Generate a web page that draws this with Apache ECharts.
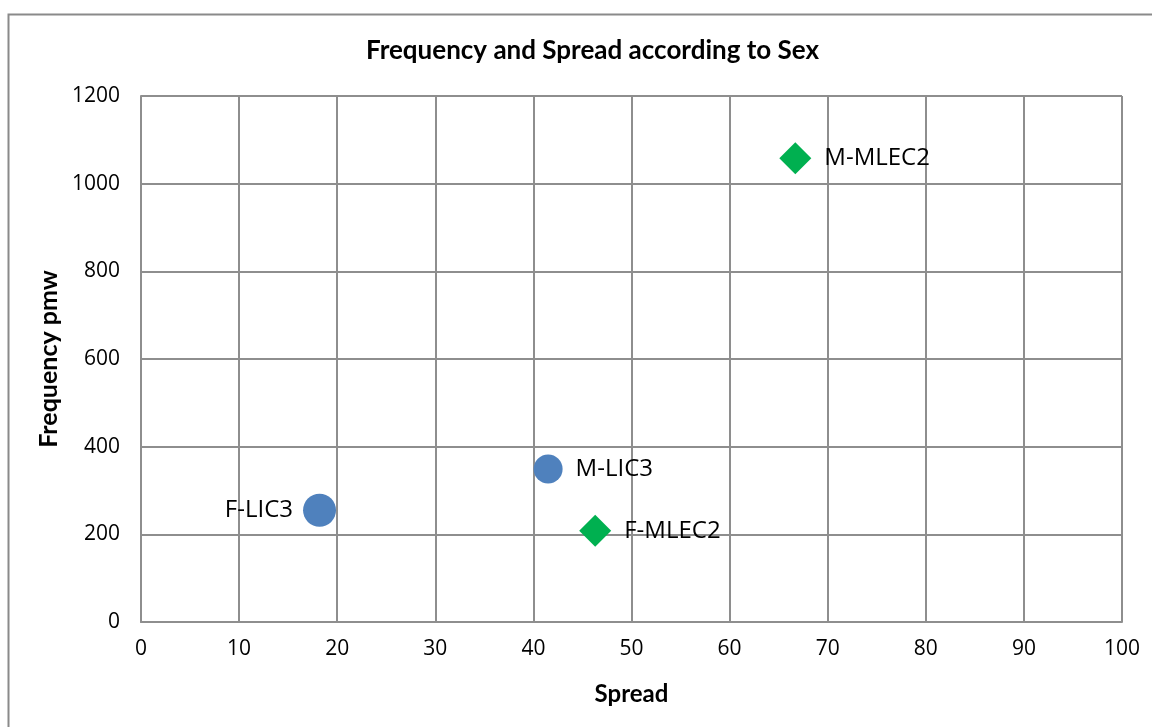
<!DOCTYPE html>
<html>
<head>
<meta charset="utf-8">
<script src="https://cdn.jsdelivr.net/npm/echarts@6/dist/echarts.min.js"></script>
<style>
  html, body { margin: 0; padding: 0; background: #fff; }
  #chart { width: 1152px; height: 727px; }
</style>
</head>
<body>
<div id="chart"></div>
<script>
// LIC3 group (circles)
const lic3Labels = ['F-LIC3', 'M-LIC3'];
const lic3Spread = [18.2, 41.5];
const lic3Freq = [255, 349];

// MLEC2 group (diamonds)
const mlec2Labels = ['F-MLEC2', 'M-MLEC2'];
const mlec2Spread = [46.3, 66.7];
const mlec2Freq = [208, 1058];

const chartTitle = 'Frequency and Spread according to Sex';
const xName = 'Spread';
const yName = 'Frequency pmw';

const gridColor = '#8e8e8e';
const textColor = '#000';

function points(labels, xs, ys) {
  return labels.map((name, i) => ({ name: name, value: [xs[i], ys[i]] }));
}

const lic3Data = points(lic3Labels, lic3Spread, lic3Freq);
lic3Data[0].symbolSize = 33;
lic3Data[0].label = { position: 'left', distance: 10 };
lic3Data[1].symbolSize = 29;

const mlec2Data = points(mlec2Labels, mlec2Spread, mlec2Freq);

const labelStyle = {
  show: true,
  position: 'right',
  distance: 13,
  formatter: p => p.name,
  fontFamily: 'Open Sans',
  fontSize: 24,
  color: textColor
};

const chart = echarts.init(document.getElementById('chart'), null, { renderer: 'canvas' });
chart.setOption({
  backgroundColor: '#fff',
  animation: false,
  title: {
    text: chartTitle,
    left: 361,
    top: 33,
    textStyle: { fontFamily: 'Lato', fontWeight: 'bold', fontSize: 26, color: textColor }
  },
  graphic: [{
    type: 'rect',
    shape: { x: 8.5, y: 14.5, width: 1170, height: 740 },
    style: { fill: 'none', stroke: '#8a8a8a', lineWidth: 2 },
    silent: true
  }],
  grid: { left: 141, top: 96, right: 30, bottom: 105 },
  xAxis: {
    type: 'value',
    min: 0, max: 100, interval: 10,
    name: xName,
    nameLocation: 'middle',
    nameGap: 60,
    nameTextStyle: { fontFamily: 'Lato', fontWeight: 'bold', fontSize: 24, color: textColor },
    axisLine: { show: true, lineStyle: { color: gridColor, width: 2 } },
    axisTick: { show: false },
    axisLabel: { fontFamily: 'Open Sans', fontSize: 21, color: textColor, margin: 17 },
    splitLine: { show: true, lineStyle: { color: gridColor, width: 2 } }
  },
  yAxis: {
    type: 'value',
    min: 0, max: 1200, interval: 200,
    name: yName,
    nameLocation: 'middle',
    nameGap: 80,
    nameRotate: 90,
    nameTextStyle: { fontFamily: 'Lato', fontWeight: 'bold', fontSize: 25, color: textColor },
    axisLine: { show: true, lineStyle: { color: gridColor, width: 2 } },
    axisTick: { show: false },
    axisLabel: { fontFamily: 'Open Sans', fontSize: 21, color: textColor, margin: 21, formatter: v => String(v) },
    splitLine: { show: true, lineStyle: { color: gridColor, width: 2 } }
  },
  series: [
    {
      name: 'LIC3',
      type: 'scatter',
      symbol: 'circle',
      symbolSize: 30,
      itemStyle: { color: '#4f81bd', opacity: 1 },
      label: labelStyle,
      data: lic3Data
    },
    {
      name: 'MLEC2',
      type: 'scatter',
      symbol: 'diamond',
      symbolSize: 32,
      itemStyle: { color: '#00b050', opacity: 1 },
      label: labelStyle,
      data: mlec2Data
    }
  ]
});
</script>
</body>
</html>
